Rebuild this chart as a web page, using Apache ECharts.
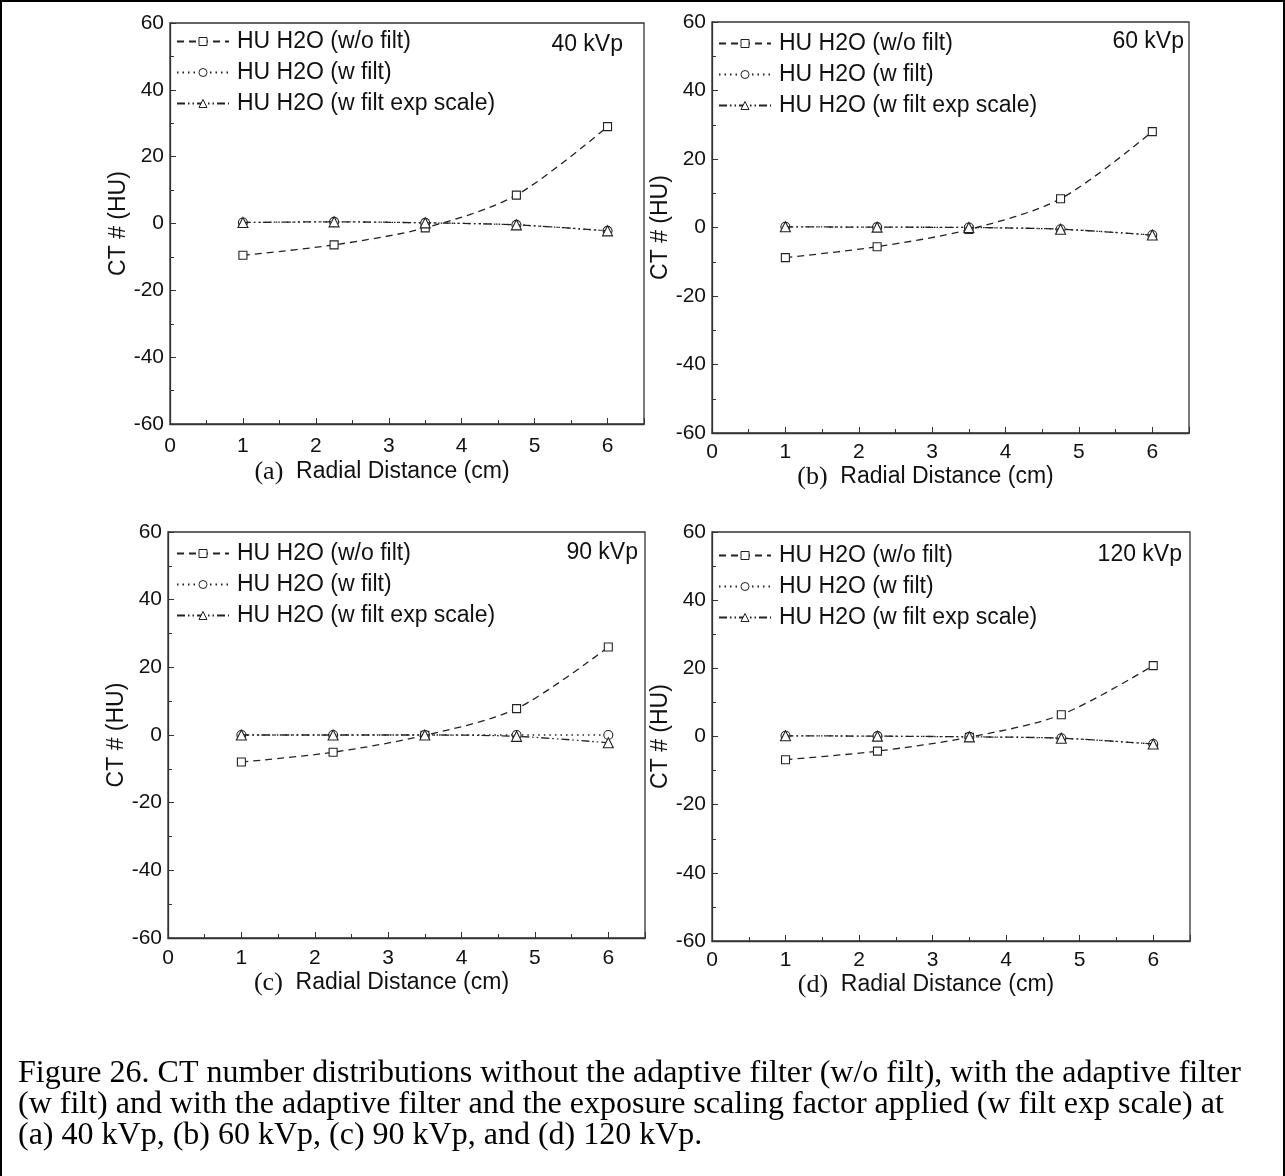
<!DOCTYPE html>
<html>
<head>
<meta charset="utf-8">
<script src="https://cdn.jsdelivr.net/npm/echarts@6/dist/echarts.min.js"></script>
<style>
html,body{margin:0;padding:0;background:#fff;}
#chart{width:1285px;height:1176px;}
</style>
</head>
<body>
<div id="chart"></div>
<script>
// ---- data ----
const radialDistance = [1, 2.25, 3.5, 4.75, 6];
const seriesNames = ['HU H2O (w/o filt)', 'HU H2O (w filt)', 'HU H2O (w filt exp scale)'];
const panelTags = ['(a)', '(b)', '(c)', '(d)'];
const panelKvp = ['40 kVp', '60 kVp', '90 kVp', '120 kVp'];

const kv40_woFilt = [-9.5, -6.4, -1.3, 8.5, 29];
const kv40_wFilt = [0.3, 0.5, 0.2, -0.4, -2.2];
const kv40_wFiltExp = [0.3, 0.5, 0.2, -0.4, -2.2];

const kv60_woFilt = [-8.8, -5.6, -0.6, 8.4, 28];
const kv60_wFilt = [0.2, 0.1, 0.0, -0.5, -2.2];
const kv60_wFiltExp = [0.2, 0.1, 0.0, -0.5, -2.2];

const kv90_woFilt = [-8.0, -5.1, -0.1, 7.8, 26];
const kv90_wFilt = [0.0, 0.0, 0.0, 0.0, 0.0];
const kv90_wFiltExp = [0.0, 0.0, 0.0, -0.4, -2.3];

const kv120_woFilt = [-6.8, -4.3, -0.2, 6.4, 20.8];
const kv120_wFilt = [0.2, 0.1, -0.1, -0.5, -2.2];
const kv120_wFiltExp = [0.2, 0.1, -0.1, -0.5, -2.2];

const yTicks = [-60, -40, -20, 0, 20, 40, 60];
const xTicks = [0, 1, 2, 3, 4, 5, 6];

const captionLines = [
  'Figure 26. CT number distributions without the adaptive filter (w/o filt), with the adaptive filter',
  '(w filt) and with the adaptive filter and the exposure scaling factor applied (w filt exp scale) at',
  '(a) 40 kVp, (b) 60 kVp, (c) 90 kVp, and (d) 120 kVp.'
];

const panelData = [
  [kv40_woFilt, kv40_wFilt, kv40_wFiltExp],
  [kv60_woFilt, kv60_wFilt, kv60_wFiltExp],
  [kv90_woFilt, kv90_wFilt, kv90_wFiltExp],
  [kv120_woFilt, kv120_wFilt, kv120_wFiltExp]
];

// ---- layout ----
const SANS = "'Liberation Sans', Arial, sans-serif";
const SERIF = "'Liberation Serif', 'Times New Roman', serif";
const INK = '#111';
const grids = [
  {left: 170, top: 23, width: 474, height: 401},
  {left: 712, top: 22, width: 477, height: 411},
  {left: 168, top: 532, width: 477, height: 406},
  {left: 712, top: 532, width: 478, height: 409}
];
const yNameGap = [26, 40, 38, 40];
const xNameGap = [35, 24, 25, 22];
const xLabelMargin = [12, 9, 10, 9];
const legendPos = [
  {left: 176, top: 29},
  {left: 718, top: 31},
  {left: 176, top: 541},
  {left: 718, top: 543}
];
const kvpPos = [
  {right: 1285 - 623, top: 33},
  {right: 1285 - 1184, top: 30},
  {right: 1285 - 638, top: 541},
  {right: 1285 - 1182, top: 543}
];

const lineTypes = [[7, 5], [1.5, 4], [8, 3, 1.5, 3, 1.5, 3]];
const symbols = ['rect', 'circle', 'triangle'];
const symbolSizes = [8, 9, 10];

const option = {
  backgroundColor: '#fff',
  animation: false,
  grid: grids.map(g => Object.assign({show: true, borderColor: '#333', borderWidth: 1.3, backgroundColor: 'transparent'}, g)),
  title: panelKvp.map((t, i) => Object.assign({
    text: t,
    textStyle: {fontFamily: SANS, fontSize: 23, fontWeight: 'normal', color: INK},
    padding: 0
  }, kvpPos[i])),
  legend: panelKvp.map((t, i) => ({
    orient: 'vertical',
    left: legendPos[i].left,
    top: legendPos[i].top,
    padding: 0,
    itemWidth: 52,
    itemHeight: 10,
    itemGap: 6,
    data: seriesNames.map(n => ({name: n})),
    itemStyle: {color: '#fff', borderColor: '#222', borderWidth: 1},
    textStyle: {fontFamily: SANS, fontSize: 23, color: INK, lineHeight: 25, padding: [0, 0, 0, 3]},
    selectedMode: false
  })),
  xAxis: grids.map((g, i) => ({
    type: 'value',
    gridIndex: i,
    min: 0,
    max: 6.5,
    interval: 1,
    name: '{tag|' + panelTags[i] + '}  Radial Distance (cm)',
    nameLocation: 'middle',
    nameGap: xNameGap[i],
    nameTextStyle: {
      fontFamily: SANS, fontSize: 23, color: INK,
      padding: [0, 50, 0, 0],
      rich: {tag: {fontFamily: SERIF, fontSize: 26, color: INK}}
    },
    axisLine: {show: true, onZero: false, lineStyle: {color: '#333', width: 1.3}},
    axisTick: {show: true, inside: true, length: 6, lineStyle: {color: '#333'}},
    minorTick: {show: true, splitNumber: 2, length: 4, lineStyle: {color: '#333'}},
    axisLabel: {
      fontFamily: SANS, fontSize: 21, color: INK, margin: xLabelMargin[i],
      showMaxLabel: false,
      formatter: v => (xTicks.indexOf(v) >= 0 ? String(v) : '')
    },
    splitLine: {show: false},
    minorSplitLine: {show: false}
  })),
  yAxis: grids.map((g, i) => ({
    type: 'value',
    gridIndex: i,
    min: -60,
    max: 60,
    interval: 20,
    name: 'CT # (HU)',
    nameLocation: 'middle',
    nameGap: yNameGap[i],
    nameTextStyle: {fontFamily: SANS, fontSize: 23, color: INK},
    axisLine: {show: true, onZero: false, lineStyle: {color: '#333', width: 1.3}},
    axisTick: {show: true, inside: true, length: 6, lineStyle: {color: '#333'}},
    minorTick: {show: true, splitNumber: 2, length: 4, lineStyle: {color: '#333'}},
    axisLabel: {
      fontFamily: SANS, fontSize: 21, color: INK, margin: 6,
      formatter: v => (yTicks.indexOf(v) >= 0 ? String(v) : '')
    },
    splitLine: {show: false},
    minorSplitLine: {show: false}
  })),
  series: [],
  graphic: [
    {type: 'rect', shape: {x: 1, y: 1, width: 1283, height: 1200}, style: {fill: 'none', stroke: '#000', lineWidth: 2}, silent: true, z: 100},
    {
      type: 'text', x: 18, y: 1058, silent: true,
      style: {
        text: captionLines.join('\n'),
        font: '32px ' + SERIF,
        lineHeight: 31,
        fill: '#000'
      }
    }
  ]
};

panelData.forEach((arrs, p) => {
  arrs.forEach((vals, s) => {
    option.series.push({
      type: 'line',
      name: seriesNames[s],
      xAxisIndex: p,
      yAxisIndex: p,
      data: radialDistance.map((x, k) => [x, vals[k]]),
      smooth: 0.3,
      symbol: symbols[s],
      symbolSize: symbolSizes[s],
      showAllSymbol: true,
      lineStyle: {color: '#222', width: 1.3, type: lineTypes[s]},
      itemStyle: {color: '#fff', borderColor: '#222', borderWidth: 1.1},
      z: 2 + s
    });
  });
});

const chart = echarts.init(document.getElementById('chart'), null, {renderer: 'canvas'});
chart.setOption(option);
</script>
</body>
</html>
